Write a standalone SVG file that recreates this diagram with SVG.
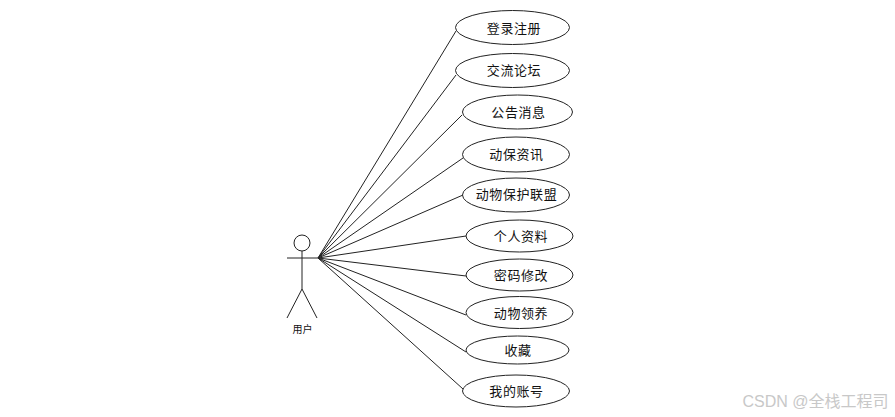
<svg xmlns="http://www.w3.org/2000/svg" width="895" height="417" viewBox="0 0 895 417">
<style>
.s{fill:none;stroke:#222;stroke-width:1}
.e{fill:#fff;stroke:#222;stroke-width:1}
text{font-family:"Liberation Sans","Noto Sans CJK SC",sans-serif;text-anchor:middle;fill:#111}
.l{font-size:13px;letter-spacing:.6px}
</style>
<rect width="895" height="417" fill="#fff"/>
<g id="connectors" class="s">
<path d="M318 258L456 31"/><path d="M318 258L456 75"/><path d="M318 258L462 115"/><path d="M318 258L463 158"/><path d="M318 258L463 195"/><path d="M318 258L466 236"/><path d="M318 258L466 276"/><path d="M318 258L466 315"/><path d="M318 258L466 352"/><path d="M318 258L463 389"/>
</g>
<g id="actor"><circle class="s" cx="302" cy="243" r="8"/><path class="s" d="M302 251V289M287 258H318M302 289L287 318M302 289L317 318"/><text x="302.500" y="333" font-size="10">用户</text></g>
<g id="n1"><ellipse class="e" cx="512.500" cy="27.500" rx="57" ry="17"/><text class="l" x="514" y="33">登录注册</text></g>
<g id="n2"><ellipse class="e" cx="512.500" cy="70.500" rx="57" ry="17"/><text class="l" x="514" y="75">交流论坛</text></g>
<g id="n3"><ellipse class="e" cx="517.500" cy="112" rx="55" ry="17"/><text class="l" x="518.500" y="117">公告消息</text></g>
<g id="n4"><ellipse class="e" cx="516" cy="154.500" rx="53.500" ry="17.500"/><text class="l" x="516.500" y="159">动保资讯</text></g>
<g id="n5"><ellipse class="e" cx="516" cy="195" rx="53.500" ry="17"/><text class="l" x="516.500" y="199">动物保护联盟</text></g>
<g id="n6"><ellipse class="e" cx="519.500" cy="236" rx="53.500" ry="16"/><text class="l" x="521" y="241">个人资料</text></g>
<g id="n7"><ellipse class="e" cx="519.500" cy="275" rx="53.500" ry="16"/><text class="l" x="521" y="280">密码修改</text></g>
<g id="n8"><ellipse class="e" cx="519.500" cy="312.500" rx="53.500" ry="16"/><text class="l" x="521" y="318">动物领养</text></g>
<g id="n9"><ellipse class="e" cx="517.500" cy="350" rx="51.500" ry="14"/><text class="l" x="518" y="355">收藏</text></g>
<g id="n10"><ellipse class="e" cx="516" cy="391" rx="53.500" ry="16"/><text class="l" x="516.500" y="396">我的账号</text></g>
<text x="815.500" y="407" font-size="16" style="fill:#c8c8c8">CSDN @全栈工程司</text>
</svg>
